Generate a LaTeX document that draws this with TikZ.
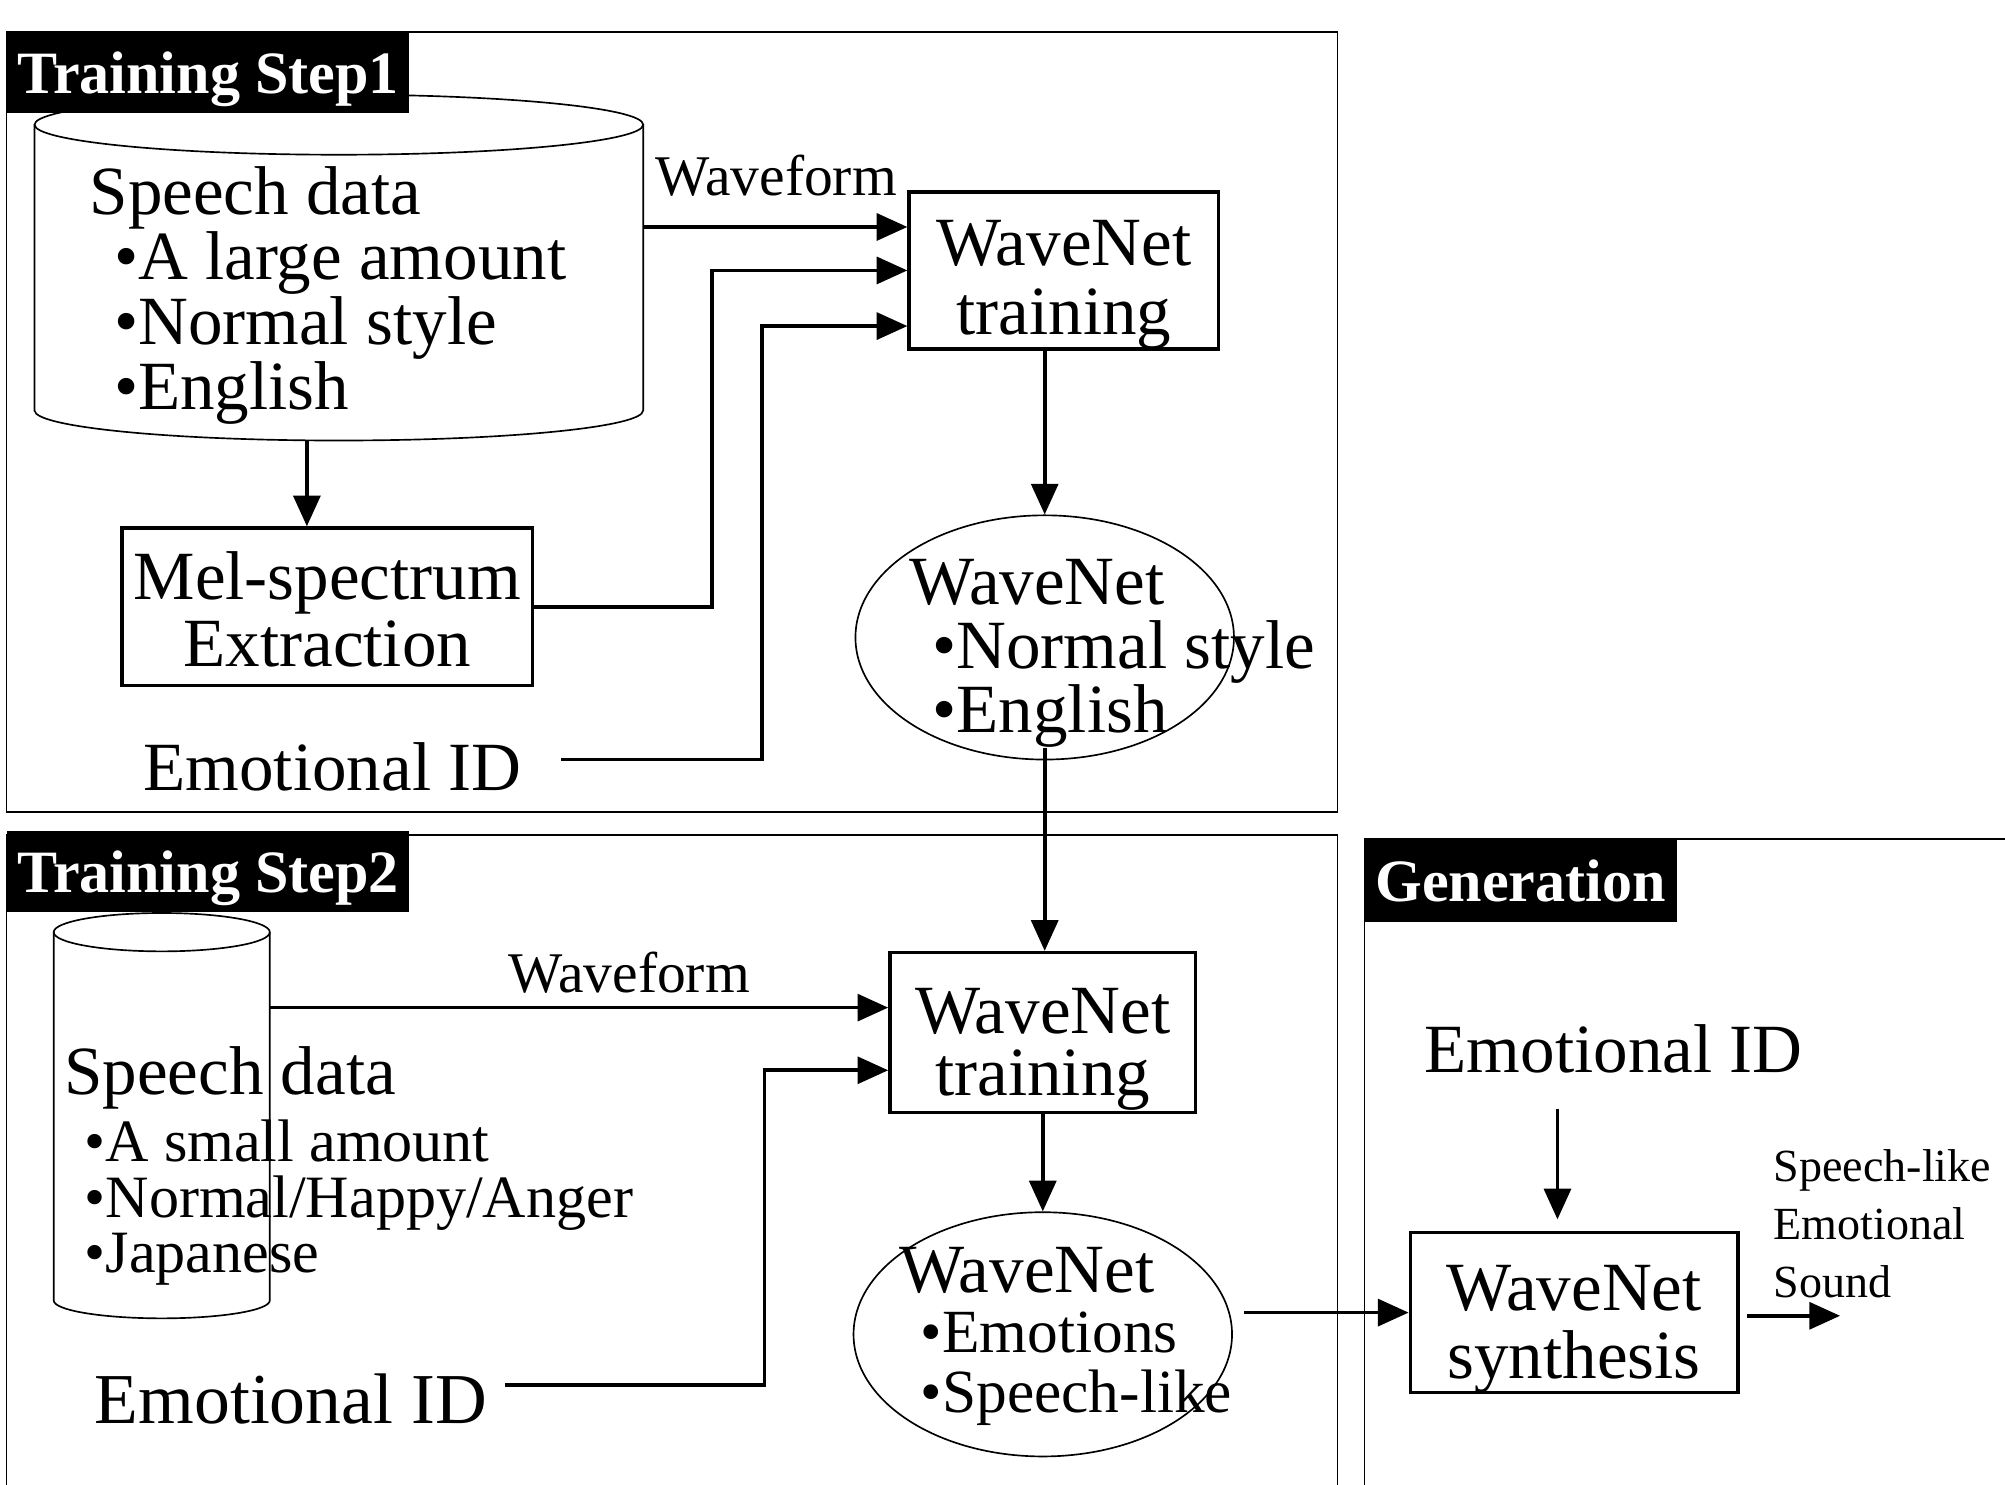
\documentclass[tikz,border=0pt]{standalone}
\usepackage{fontspec}
\setmainfont{Liberation Serif}
\usetikzlibrary{arrows.meta,shapes.geometric,calc}
\begin{document}
\begin{tikzpicture}[x=1pt,y=-1pt,
  frame/.style={draw, line width=1.2pt},
  hdr/.style={fill=black, text=white, font=\fontsize{47}{47}\selectfont\bfseries, inner sep=0pt, anchor=north west, text depth=0pt},
  procbox/.style={draw, line width=2.8pt, inner sep=0pt},
  boxtext/.style={align=center, inner sep=0pt},
  shapeline/.style={draw, line width=1.3pt},
  txt/.style={inner sep=0pt, align=left, anchor=west},
  conn/.style={line width=2.9pt, -{Triangle[length=24pt,width=21pt]}},
  anchorbox/.style={inner sep=0pt},
]
\fill[white] (0,0) rectangle (1568,1161);
\useasboundingbox (0,0) rectangle (1568,1161);

% frames
\draw[frame] (5,25) rectangle (1046,635);
\draw[frame] (5,1161) -- (5,653) -- (1046,653) -- (1046,1161);
\draw[frame] (1067,1161) -- (1067,656) -- (1568,656);

% cylinder 1
\draw[shapeline] (27,97.5) -- (27,321) arc[start angle=180,end angle=360,x radius=238pt,y radius=23.5pt] -- (503,97.5);
\draw[shapeline] (265,97.5) ellipse[x radius=238pt,y radius=23.5pt];
\node[anchorbox, minimum width=476pt, minimum height=271pt] (cyl1) at (265,209.5) {};

% cylinder 2
\draw[shapeline] (42,729) -- (42,1017) arc[start angle=180,end angle=360,x radius=84.5pt,y radius=14pt] -- (211,729);
\draw[shapeline] (126.5,729) ellipse[x radius=84.5pt,y radius=15pt];
\node[anchorbox, minimum width=169pt, minimum height=317pt] (cyl2) at (126.5,872.5) {};

% headers
\node[hdr, minimum width=315pt, minimum height=63pt] (h1) at (5,25) {Training Step1};
\node[hdr, minimum width=315pt, minimum height=63pt] (h2) at (5,650) {Training Step2};
\node[hdr, minimum width=244pt, minimum height=65pt] (h3) at (1067,656) {Generation};

% cylinder texts
\node[txt, font=\fontsize{54}{51}\selectfont] (t1) at (70,231)
  {Speech data\\\hspace*{19pt}•A large amount\\\hspace*{19pt}•Normal style\\\hspace*{19pt}•English};
\node[txt, font=\fontsize{47}{43.5}\selectfont] (t2) at (50,912)
  {{\fontsize{54}{54}\selectfont Speech data}\\[7pt]\hspace*{16pt}•A small amount\\\hspace*{16pt}•Normal/Happy/Anger\\\hspace*{16pt}•Japanese};

% boxes
\node[procbox, minimum width=242pt, minimum height=123pt] (wn1) at (832,211.5) {};
\node[boxtext, font=\fontsize{54}{54}\selectfont] (wn1t) at ([yshift=-11pt]wn1.center) {WaveNet\\training};
\node[procbox, minimum width=321pt, minimum height=123pt] (mel) at (256,474.5) {};
\node[boxtext, font=\fontsize{54}{52}\selectfont] (melt) at ([yshift=-2pt]mel.center) {Mel-spectrum\\Extraction};
\node[procbox, minimum width=239pt, minimum height=125pt] (wn2) at (815.5,807.5) {};
\node[boxtext, font=\fontsize{54}{49}\selectfont] (wn2t) at ([yshift=-13pt]wn2.center) {WaveNet\\training};
\node[procbox, minimum width=256pt, minimum height=125pt] (syn) at (1231,1026.5) {};
\node[boxtext, font=\fontsize{54}{53}\selectfont] (synt) at ([yshift=-13pt]syn.center) {WaveNet\\synthesis};

% ellipses
\node[ellipse, shapeline, minimum width=296pt, minimum height=191pt, inner sep=0pt] (ell1) at (817,498.5) {};
\node[ellipse, shapeline, minimum width=296pt, minimum height=191pt, inner sep=0pt] (ell2) at (815.5,1043.5) {};
\node[txt, font=\fontsize{54}{50}\selectfont] (e1t) at (711,511)
  {WaveNet\\\hspace*{18pt}•Normal style\\\hspace*{18pt}•English};
\node[txt, font=\fontsize{48}{47}\selectfont] (e2t) at (703,1045)
  {{\fontsize{54}{54}\selectfont WaveNet}\\\hspace*{17pt}•Emotions\\\hspace*{17pt}•Speech-like};

% labels
\node[anchorbox, font=\fontsize{45}{45}\selectfont] (wf1) at (607,137) {Waveform};
\node[anchorbox, font=\fontsize{45}{45}\selectfont] (wf2) at (492,761) {Waveform};
\node[txt, font=\fontsize{54}{54}\selectfont] (emo1) at (112,600) {Emotional ID};
\node[txt, font=\fontsize{56}{56}\selectfont] (emo2) at (74,1094) {Emotional ID};
\node[txt, font=\fontsize{54}{54}\selectfont] (emo3) at (1114,820) {Emotional ID};
\node[txt, font=\fontsize{36}{45}\selectfont] (outtxt) at (1387,957) {Speech-like\\Emotional\\Sound};

% connector helper coordinates
\coordinate (wn1a) at ([yshift=34pt]wn1.west);
\coordinate (wn1c) at ([yshift=-43.5pt]wn1.west);
\coordinate (melN) at ([xshift=-16pt]mel.north);
\coordinate (wn2a) at ([yshift=19.5pt]wn2.west);
\coordinate (wn2b) at ([yshift=-29.5pt]wn2.west);
\coordinate (synN) at ([xshift=-13pt]syn.north);
\coordinate (out) at (1439,1029);

% connectors step 1
\draw[conn] (cyl1.east |- wn1a) -- (wn1a);
\draw[conn] (mel.east) -- ++(139,0) |- (wn1.west);
\draw[conn] ([xshift=31pt,yshift=6pt]emo1.east) -- ++(157,0) |- (wn1c);
\draw[conn] (cyl1.south -| melN) -- (melN);
\draw[conn] (wn1.south -| ell1.north) -- (ell1.north);
\draw[conn] ([yshift=10pt]ell1.south) -- (ell1.south |- wn2.north);

% connectors step 2
\draw[conn] (cyl2.east |- wn2a) -- (wn2a);
\draw[conn] ([xshift=14pt,yshift=11pt]emo2.east) -- ++(203,0) |- (wn2b);
\draw[conn] (wn2.south -| ell2.north) -- (ell2.north);
\draw[conn, shorten <=9pt] (ell2.east |- syn.west) -- (syn.west);

% generation
\draw[conn, shorten <=28pt, shorten >=9pt] (emo3.south -| synN) -- (synN);
\draw[conn, shorten <=6pt] (syn.east |- out) -- (out);
\end{tikzpicture}
\end{document}
